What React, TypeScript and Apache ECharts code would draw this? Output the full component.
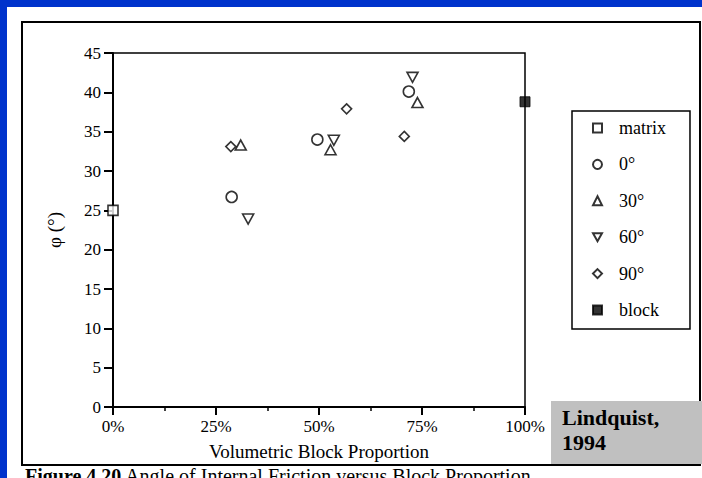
import React, { useEffect, useRef } from "react";
import * as echarts from "echarts";

const xTicks = [0, 25, 50, 75, 100];
const yTicks = [0, 5, 10, 15, 20, 25, 30, 35, 40, 45];
const seriesNames = ["matrix", "0°", "30°", "60°", "90°", "block"];
const matrixPts = [[0, 25.0]];
const deg0Pts = [[28.8, 26.7], [49.6, 34.0], [71.8, 40.1]];
const deg30Pts = [[31.0, 33.3], [52.8, 32.7], [73.9, 38.7]];
const deg60Pts = [[32.8, 23.9], [53.6, 33.9], [72.7, 41.9]];
const deg90Pts = [[28.6, 33.1], [56.7, 37.9], [70.7, 34.4]];
const blockPts = [[100, 38.8]];

const SERIF = "'Liberation Serif', 'Times New Roman', serif";
const downTri = "path://M0,0L10,0L5,9Z";

export default function App() {
  const ref = useRef<HTMLDivElement>(null);
  useEffect(() => {
    if (!ref.current) return;
    const chart = echarts.init(ref.current, null, { renderer: "svg" });
    const hollow = { color: "#fff", borderColor: "#000", borderWidth: 1.6 };
    const mk = (name: string, data: number[][], symbol: string, size: number | number[], style: any) => ({
      name,
      type: "scatter",
      data,
      symbol,
      symbolSize: size,
      itemStyle: style,
      clip: false,
      z: 5,
    });
    chart.setOption({
      animation: false,
      backgroundColor: "#0033cc",
      textStyle: { fontFamily: SERIF },
      grid: {
        left: 113,
        right: 177,
        top: 53,
        bottom: 71,
        show: true,
        borderColor: "#000",
        borderWidth: 1.5,
        backgroundColor: "transparent",
        z: 1,
      },
      legend: {
        orient: "vertical",
        left: 572,
        top: 111,
        padding: [8, 24, 10, 20],
        itemWidth: 9,
        itemHeight: 9,
        itemGap: 18.4,
        borderColor: "#000",
        borderWidth: 1.5,
        backgroundColor: "#fff",
        data: seriesNames,
        textStyle: {
          fontFamily: SERIF,
          fontSize: 18,
          lineHeight: 18,
          color: "#000",
          padding: [0, 0, 0, 12],
        },
      },
      xAxis: {
        type: "value",
        min: xTicks[0],
        max: xTicks[xTicks.length - 1],
        interval: 25,
        axisLine: { show: true, lineStyle: { color: "#000", width: 2 } },
        axisTick: { show: true, inside: false, length: 8, lineStyle: { color: "#000", width: 2 } },
        minorTick: { show: true, splitNumber: 2, length: 4, lineStyle: { color: "#000", width: 1.5 } },
        splitLine: { show: false },
        axisLabel: {
          formatter: (v: number) => `${v}%`,
          fontFamily: SERIF,
          fontSize: 17,
          color: "#000",
          margin: 11,
        },
        name: "Volumetric Block Proportion",
        nameLocation: "middle",
        nameGap: 35,
        nameTextStyle: { fontFamily: SERIF, fontSize: 19, color: "#000" },
      },
      yAxis: {
        type: "value",
        min: yTicks[0],
        max: yTicks[yTicks.length - 1],
        interval: 5,
        axisLine: { show: true, lineStyle: { color: "#000", width: 2 } },
        axisTick: { show: true, inside: false, length: 9, lineStyle: { color: "#000", width: 2 } },
        splitLine: { show: false },
        axisLabel: { fontFamily: SERIF, fontSize: 17, color: "#000", margin: 12 },
        name: "φ (°)",
        nameLocation: "middle",
        nameGap: 49,
        nameTextStyle: { fontFamily: SERIF, fontSize: 19, color: "#000" },
      },
      graphic: [
        { type: "rect", z: -10, silent: true, shape: { x: 7, y: 7, width: 702, height: 478 }, style: { fill: "#fff" } },
        {
          type: "rect",
          z: -9,
          silent: true,
          shape: { x: 22, y: 22, width: 678, height: 443 },
          style: { fill: "none", stroke: "#000", lineWidth: 2 },
        },
        { type: "rect", z: 10, silent: true, shape: { x: 551, y: 401, width: 151, height: 63 }, style: { fill: "#c0c0c0" } },
        {
          type: "text",
          z: 11,
          x: 562,
          y: 405,
          style: {
            text: "Lindquist,\n1994",
            fontFamily: SERIF,
            fontWeight: "bold",
            fontSize: 22,
            lineHeight: 25,
            fill: "#000",
          },
        },
        {
          type: "text",
          z: 11,
          x: 25,
          y: 466,
          style: {
            text: "{b|Figure 4.20} Angle of Internal Friction versus Block Proportion",
            fontFamily: SERIF,
            fontSize: 20,
            lineHeight: 20,
            fill: "#000",
            rich: { b: { fontFamily: SERIF, fontSize: 20, fontWeight: "bold", fill: "#000" } },
          },
        },
      ],
      series: [
        mk("matrix", matrixPts, "rect", 10, hollow),
        mk("0°", deg0Pts, "circle", 11, hollow),
        mk("30°", deg30Pts, "triangle", [11, 10], hollow),
        mk("60°", deg60Pts, downTri, [11, 10], hollow),
        mk("90°", deg90Pts, "diamond", [10, 10], hollow),
        mk("block", blockPts, "rect", 10, { color: "#000", borderColor: "#000", borderWidth: 1 }),
      ],
    });
    return () => chart.dispose();
  }, []);
  return <div ref={ref} style={{ position: "fixed", left: 0, top: 0, width: 702, height: 478 }} />;
}
